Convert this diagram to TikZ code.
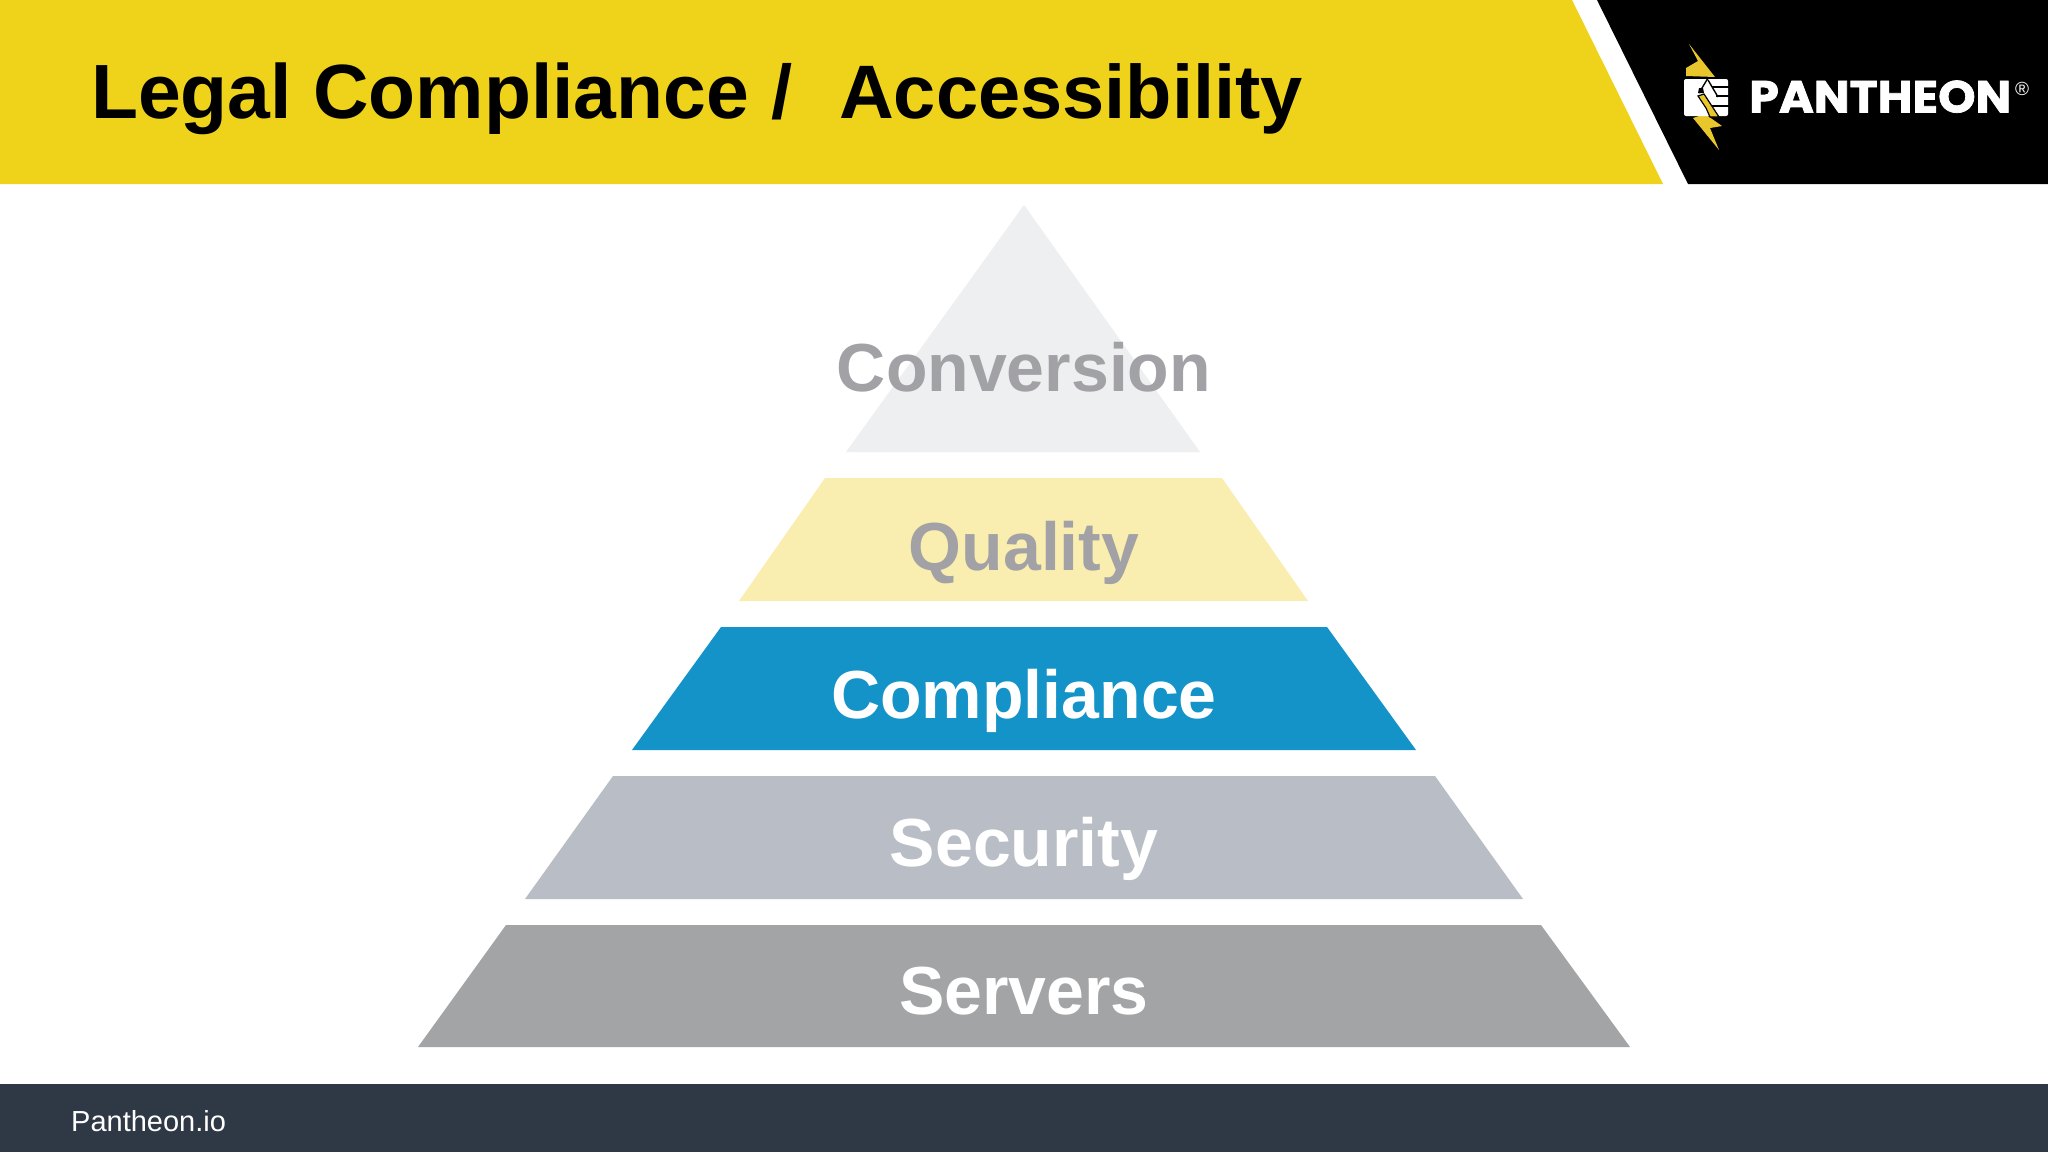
\documentclass[tikz,border=0pt]{standalone}
\usepackage{fontspec}
\setmainfont{Liberation Sans}
\newfontfamily\logofont[BoldFeatures={FakeBold=1.6}]{Poppins}
\definecolor{hdryellow}{HTML}{EFD31B}
\definecolor{boltyellow}{HTML}{E9C62C}
\definecolor{footbar}{HTML}{2F3845}
\definecolor{convfill}{HTML}{EEEFF1}
\definecolor{qualfill}{HTML}{FAEDB0}
\definecolor{compfill}{HTML}{1493C8}
\definecolor{secfill}{HTML}{B9BEC6}
\definecolor{servfill}{HTML}{A3A4A6}
\definecolor{lblgray}{HTML}{A2A2A6}
\tikzset{
  layerlabel/.style={anchor=base,inner sep=0pt,font=\bfseries\fontsize{68}{70}\selectfont},
}
\begin{document}
\begin{tikzpicture}[x=1pt,y=-1pt]
\useasboundingbox (0,0) rectangle (2048,1152);
\fill[white] (0,0) rectangle (2048,1152);
% header
\fill[hdryellow] (0,0) -- (1572,0) -- (1663,184) -- (0,184) -- cycle;
\fill[black] (1597,0) -- (2048,0) -- (2048,184) -- (1688,184) -- cycle;
\node[anchor=base west,inner sep=0pt,font=\bfseries\fontsize{76}{80}\selectfont] (title) at (91,118) {{\fontsize{76.9}{80}\selectfont Legal Compliance}\kern1.5pt\ /\kern4pt\ \ {\fontsize{75.8}{80}\selectfont Accessibility}};
% footer
\fill[footbar] (0,1084) rectangle (2048,1152);
\node[anchor=base west,inner sep=0pt,white,font=\fontsize{29}{32}\selectfont] (foot) at (71,1131) {Pantheon.io};
% pyramid
\fill[convfill] (1024,205) -- (1200,452) -- (846,452) -- cycle;
\fill[qualfill] (825,478) -- (1222,478) -- (1308,601) -- (739,601) -- cycle;
\fill[compfill] (721,627) -- (1327,627) -- (1416,750) -- (632,750) -- cycle;
\fill[secfill] (613,776) -- (1435,776) -- (1523,899) -- (525,899) -- cycle;
\fill[servfill] (506,925) -- (1541,925) -- (1630,1047) -- (418,1047) -- cycle;
\node[layerlabel,text=lblgray] (conv) at (1024,391) {Conversion};
\node[layerlabel,text=lblgray] (qual) at (1024,570) {Quality};
\node[layerlabel,text=white] (comp) at (1024,718) {Compliance};
\node[layerlabel,text=white] (sec) at (1024,866) {Security};
\node[layerlabel,text=white] (serv) at (1024,1014) {Servers};
% logo: bolt
\fill[boltyellow] (1689,44) -- (1715,77) -- (1686,76) -- (1686,68) -- (1698,61) -- cycle;
\fill[boltyellow] (1705,114) -- (1722,126) -- (1710,128) -- (1719,150) -- (1693,118) -- cycle;
% logo: fist
\fill[white,rounded corners=2pt] (1684,79) rectangle (1728,116);
\draw[black,line width=1.4pt] (1712,87) -- (1729,87);
\draw[black,line width=1.4pt] (1716,96) -- (1729,96);
\draw[black,line width=1.4pt] (1712,106) -- (1729,106);
\draw[black,line width=1.4pt] (1708,78) -- (1699,93);
\draw[black,line width=1.4pt] (1708,80) -- (1718,97);
\fill[black] (1699,88) -- (1703,88) -- (1704,93) -- (1698,93) -- cycle;
\fill[boltyellow,draw=black,line width=1.2pt] (1698,96) -- (1704,94) -- (1719,117) -- (1710,117) -- (1706,108) -- cycle;
\node[inner sep=0pt,anchor=south west,white] (logo) at (1749,113) {\resizebox{262pt}{32pt}{\logofont\bfseries PANTHEON}};
\node[inner sep=0pt,white,font=\fontsize{19}{20}\selectfont] (reg) at (2022,89) {®};
\end{tikzpicture}
\end{document}
